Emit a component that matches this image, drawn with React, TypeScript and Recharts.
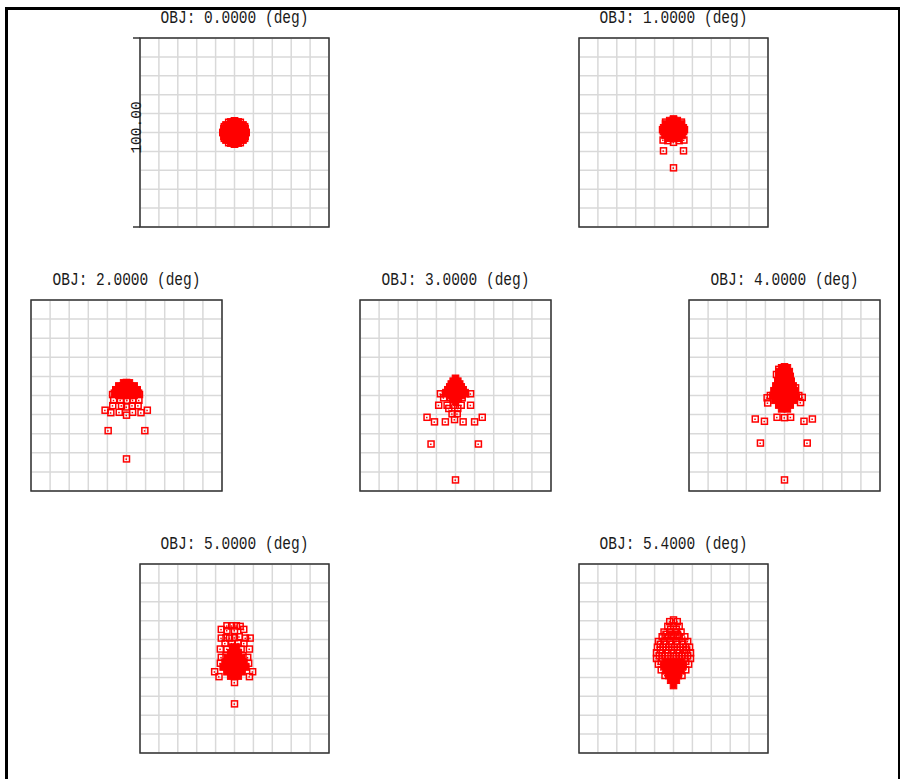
import React from 'react';
import { ScatterChart, Scatter, XAxis, YAxis, CartesianGrid, ReferenceArea } from 'recharts';

// spot diagram, ray positions in µm relative to the chief ray, box = 100 µm
const gridTicks = [-50, -40, -30, -20, -10, 0, 10, 20, 30, 40, 50];
const scaleLabel = '100.00';
const fieldLabels = ['OBJ: 0.0000 (deg)', 'OBJ: 1.0000 (deg)', 'OBJ: 2.0000 (deg)', 'OBJ: 3.0000 (deg)', 'OBJ: 4.0000 (deg)', 'OBJ: 5.0000 (deg)', 'OBJ: 5.4000 (deg)'];

type Pt = { x: number; y: number };

const spot0Core: Pt[] = [
  { x: 0, y: 6 }, { x: -2, y: 5.6 }, { x: 2, y: 5.6 },
  { x: -4.5, y: 4 }, { x: -2.5, y: 4 }, { x: 0, y: 4 }, { x: 2.5, y: 4 }, { x: 4.5, y: 4 },
  { x: -5.6, y: 2 }, { x: -3, y: 2 }, { x: 0, y: 2 }, { x: 3, y: 2 }, { x: 5.6, y: 2 },
  { x: -6, y: 0 }, { x: -3, y: 0 }, { x: 0, y: 0 }, { x: 3, y: 0 }, { x: 6, y: 0 },
  { x: -5.6, y: -2 }, { x: -3, y: -2 }, { x: 0, y: -2 }, { x: 3, y: -2 }, { x: 5.6, y: -2 },
  { x: -4.5, y: -4 }, { x: -2.5, y: -4 }, { x: 0, y: -4 }, { x: 2.5, y: -4 }, { x: 4.5, y: -4 },
  { x: 0, y: -6 }, { x: -2, y: -5.6 }, { x: 2, y: -5.6 },
];
const spot0Rays: Pt[] = [
  { x: 6.2, y: 0 }, { x: 5.4, y: 3.1 }, { x: 3.1, y: 5.4 }, { x: 0, y: 6.2 }, { x: -3.1, y: 5.4 }, { x: -5.4, y: 3.1 },
  { x: -6.2, y: 0 }, { x: -5.4, y: -3.1 }, { x: -3.1, y: -5.4 }, { x: 0, y: -6.2 }, { x: 3.1, y: -5.4 }, { x: 5.4, y: -3.1 },
];

const spot1Core: Pt[] = [
  { x: -2, y: 6.3 }, { x: 0, y: 6.7 }, { x: 2, y: 6.3 },
  { x: -4.2, y: 4.5 }, { x: -2, y: 4.5 }, { x: 0, y: 4.5 }, { x: 2, y: 4.5 }, { x: 4.2, y: 4.5 },
  { x: -5.2, y: 2.5 }, { x: -2.6, y: 2.5 }, { x: 0, y: 2.5 }, { x: 2.6, y: 2.5 }, { x: 5.2, y: 2.5 },
  { x: -5.3, y: 0.5 }, { x: -2.6, y: 0.5 }, { x: 0, y: 0.5 }, { x: 2.6, y: 0.5 }, { x: 5.3, y: 0.5 },
  { x: -4.5, y: -1.5 }, { x: -2.2, y: -1.5 }, { x: 0, y: -1.5 }, { x: 2.2, y: -1.5 }, { x: 4.5, y: -1.5 },
  { x: -2.5, y: -3 }, { x: 0, y: -3.2 }, { x: 2.5, y: -3 },
];
const spot1Rays: Pt[] = [
  { x: -5.5, y: -4 }, { x: 5.5, y: -4 }, { x: 0, y: -5.2 }, { x: -3, y: -4.3 }, { x: 3, y: -4.3 },
  { x: -5.8, y: 1.5 }, { x: 5.8, y: 1.5 }, { x: -4.2, y: 5.5 }, { x: 4.2, y: 5.5 }, { x: 0, y: 7.2 },
  { x: -5.3, y: -9.7 }, { x: 5.3, y: -9.7 }, { x: 0, y: -18.7 },
];

const spot2Core: Pt[] = [
  { x: -1.5, y: 6.6 }, { x: 0, y: 6.8 }, { x: 1.5, y: 6.6 },
  { x: -4, y: 5 }, { x: -2, y: 5 }, { x: 0, y: 5 }, { x: 2, y: 5 }, { x: 4, y: 5 },
  { x: -5.6, y: 3 }, { x: -3, y: 3 }, { x: 0, y: 3 }, { x: 3, y: 3 }, { x: 5.6, y: 3 },
  { x: -6.3, y: 1.2 }, { x: -3.2, y: 1.2 }, { x: 0, y: 1.2 }, { x: 3.2, y: 1.2 }, { x: 6.3, y: 1.2 },
];
const spot2Rays: Pt[] = [
  { x: -7.3, y: 0.5 }, { x: 6.8, y: 0.5 }, { x: -4, y: 0 }, { x: -1.5, y: 0 }, { x: 1.5, y: 0 }, { x: 4, y: 0 },
  { x: -6.7, y: -2.5 }, { x: -3.2, y: -2.5 }, { x: 0.3, y: -2.5 }, { x: 3.3, y: -2.5 }, { x: 6.5, y: -2.5 },
  { x: -7.2, y: -5.3 }, { x: -2.6, y: -5.3 }, { x: 0, y: -6 }, { x: 3, y: -5.3 }, { x: 6.1, y: -5.3 },
  { x: -11.2, y: -7.7 }, { x: -8.2, y: -9 }, { x: -3.8, y: -8.8 }, { x: 0, y: -10.3 }, { x: 3.2, y: -8.8 }, { x: 7.6, y: -9 }, { x: 10.9, y: -7.7 },
  { x: -9.6, y: -18.4 }, { x: 9.6, y: -18.4 }, { x: 0, y: -33.2 },
];

const spot3Core: Pt[] = [
  { x: 0, y: 9 },
  { x: -1.2, y: 7.5 }, { x: 1.2, y: 7.5 },
  { x: -2.2, y: 6 }, { x: 0, y: 6 }, { x: 2.2, y: 6 },
  { x: -3, y: 4.5 }, { x: -1, y: 4.5 }, { x: 1, y: 4.5 }, { x: 3, y: 4.5 },
  { x: -4, y: 3 }, { x: -2, y: 3 }, { x: 0, y: 3 }, { x: 2, y: 3 }, { x: 4, y: 3 },
  { x: -5, y: 1.5 }, { x: -2.5, y: 1.5 }, { x: 0, y: 1.5 }, { x: 2.5, y: 1.5 }, { x: 5, y: 1.5 },
  { x: -3, y: 0 }, { x: 0, y: 0 }, { x: 3, y: 0 },
  { x: -1.5, y: -1.5 }, { x: 1.5, y: -1.5 },
  { x: 0, y: -3 },
];
const spot3Rays: Pt[] = [
  { x: -7.9, y: 0.9 }, { x: -5.3, y: 0.9 }, { x: 5.3, y: 0.9 }, { x: 7.9, y: 0.9 },
  { x: -6.2, y: -1.2 }, { x: -2.6, y: -1.2 }, { x: 1.2, y: -1.2 }, { x: 3.5, y: -1.2 },
  { x: -8.8, y: -5.1 }, { x: -4.4, y: -5.1 }, { x: -0.9, y: -5.1 }, { x: 3, y: -5.1 }, { x: 7.9, y: -5.1 },
  { x: -3.5, y: -6.8 }, { x: 1.2, y: -6.8 },
  { x: -1.8, y: -9.6 }, { x: 0.9, y: -9.6 },
  { x: -14.9, y: -11.4 }, { x: 14, y: -11.4 }, { x: -0.5, y: -12.6 },
  { x: -11, y: -13.8 }, { x: -5.3, y: -13.8 }, { x: 4, y: -13.8 }, { x: 10, y: -13.8 },
  { x: -12.8, y: -25.4 }, { x: 12, y: -25.4 }, { x: 0, y: -44.2 },
];

const spot4Core: Pt[] = [
  { x: 0, y: 15 }, { x: -1.5, y: 14.5 }, { x: 1.5, y: 14.5 },
  { x: -2.5, y: 12.5 }, { x: 0, y: 12.5 }, { x: 2.5, y: 12.5 },
  { x: -3, y: 10 }, { x: -1, y: 10 }, { x: 1, y: 10 }, { x: 3, y: 10 },
  { x: -3.5, y: 7.5 }, { x: -1.2, y: 7.5 }, { x: 1.2, y: 7.5 }, { x: 3.5, y: 7.5 },
  { x: -4.5, y: 5 }, { x: -1.5, y: 5 }, { x: 1.5, y: 5 }, { x: 4.5, y: 5 },
  { x: -5.5, y: 2.5 }, { x: -2.8, y: 2.5 }, { x: 0, y: 2.5 }, { x: 2.8, y: 2.5 }, { x: 5.5, y: 2.5 },
  { x: -6, y: 0 }, { x: -3, y: 0 }, { x: 0, y: 0 }, { x: 3, y: 0 }, { x: 6, y: 0 },
  { x: -5, y: -2.5 }, { x: -2.5, y: -2.5 }, { x: 0, y: -2.5 }, { x: 2.5, y: -2.5 }, { x: 5, y: -2.5 },
  { x: -3, y: -5 }, { x: 0, y: -5 }, { x: 3, y: -5 },
  { x: -1.5, y: -7 }, { x: 1.5, y: -7 },
];
const spot4Rays: Pt[] = [
  { x: -3, y: 13.7 }, { x: -4.2, y: 11 }, { x: -3, y: 4 }, { x: 5.8, y: 4 },
  { x: -7.4, y: 0 }, { x: -9.1, y: -1.2 }, { x: -8.8, y: -3.9 },
  { x: 7.5, y: 0 }, { x: 9.3, y: -1 }, { x: 8.4, y: -3.7 },
  { x: -3.9, y: -11.4 }, { x: 0, y: -11.6 }, { x: 3.2, y: -11.4 },
  { x: -15.3, y: -12.3 }, { x: -10.5, y: -13.5 }, { x: 10.2, y: -13.5 }, { x: 14.6, y: -12.3 },
  { x: -12.6, y: -24.9 }, { x: 11.9, y: -24.9 }, { x: 0, y: -44.2 },
];

const spot5Core: Pt[] = [
  { x: -1, y: 6 }, { x: 1, y: 6 },
  { x: -2, y: 3 }, { x: 0, y: 3 }, { x: 2, y: 3 },
  { x: -3, y: 0.5 }, { x: 0, y: 0.5 }, { x: 3, y: 0.5 },
  { x: -5, y: -2 }, { x: -2.5, y: -2 }, { x: 0, y: -2 }, { x: 2.5, y: -2 }, { x: 5, y: -2 },
  { x: -6, y: -4.5 }, { x: -3, y: -4.5 }, { x: 0, y: -4.5 }, { x: 3, y: -4.5 }, { x: 6, y: -4.5 },
  { x: -4, y: -7 }, { x: -1.5, y: -7 }, { x: 1.5, y: -7 }, { x: 4, y: -7 },
  { x: -2, y: -9.3 }, { x: 0, y: -9.5 }, { x: 2, y: -9.3 },
];
const spot5Rays: Pt[] = [
  { x: -4, y: 17.3 }, { x: -1.5, y: 17.3 }, { x: 1, y: 17.3 }, { x: 3, y: 17 },
  { x: -7, y: 15.4 }, { x: -4, y: 14.8 }, { x: 0, y: 14.8 }, { x: 4.9, y: 15.4 },
  { x: -7, y: 10.8 }, { x: -4.5, y: 11 }, { x: -2.6, y: 10.8 }, { x: 0, y: 11 }, { x: 2.5, y: 11.5 }, { x: 5.8, y: 10.8 }, { x: 8.3, y: 10.8 },
  { x: -5, y: 8 }, { x: -1.5, y: 8 }, { x: 2, y: 8 }, { x: 5, y: 8 },
  { x: -7.5, y: 5 }, { x: -4, y: 5 }, { x: 3.5, y: 5 }, { x: 7.9, y: 5 },
  { x: -7, y: 0.6 }, { x: -4.5, y: 1.5 }, { x: 4.5, y: 1.5 }, { x: 7, y: 0.6 },
  { x: -7.5, y: -2.5 }, { x: 7.5, y: -2.5 },
  { x: -10.5, y: -7 }, { x: 9.6, y: -7 }, { x: -8.2, y: -9.6 }, { x: 7.9, y: -9.6 },
  { x: 0, y: -12.7 }, { x: 0, y: -24 },
];

const spot6Core: Pt[] = [
  { x: -4, y: -1.5 }, { x: -1.5, y: -1.5 }, { x: 1.5, y: -1.5 }, { x: 4, y: -1.5 },
  { x: -5, y: -4 }, { x: -2.5, y: -4 }, { x: 0, y: -4 }, { x: 2.5, y: -4 }, { x: 5, y: -4 },
  { x: -4, y: -6.5 }, { x: -1.5, y: -6.5 }, { x: 1.5, y: -6.5 }, { x: 4, y: -6.5 },
  { x: -2.5, y: -9 }, { x: 0, y: -9 }, { x: 2.5, y: -9 },
  { x: -1.5, y: -11.5 }, { x: 1.5, y: -11.5 },
  { x: 0, y: -14.3 },
];
const spot6Rays: Pt[] = [
  { x: 0, y: 20.4 }, { x: -2, y: 19.5 }, { x: 2, y: 19.5 },
  { x: -3, y: 17 }, { x: 0, y: 17 }, { x: 3, y: 17 }, { x: -1.5, y: 15.5 }, { x: 1.5, y: 15.5 },
  { x: -5, y: 14 }, { x: -2, y: 14 }, { x: 1, y: 14 }, { x: 4, y: 14 },
  { x: -4, y: 12.8 }, { x: -1, y: 12.8 }, { x: 2, y: 12.8 },
  { x: -6, y: 11.5 }, { x: -3, y: 11.5 }, { x: 0, y: 11.5 }, { x: 3, y: 11.5 }, { x: 6, y: 11.5 },
  { x: -8, y: 9 }, { x: -5, y: 9 }, { x: -2, y: 9 }, { x: 1.5, y: 9 }, { x: 4.5, y: 9 }, { x: 7.5, y: 9 },
  { x: -7, y: 7.5 }, { x: -4, y: 7.5 }, { x: -1, y: 7.5 }, { x: 2, y: 7.5 }, { x: 5, y: 7.5 },
  { x: -8.5, y: 6 }, { x: -5.5, y: 6 }, { x: -2.5, y: 6 }, { x: 0.5, y: 6 }, { x: 3.5, y: 6 }, { x: 6.5, y: 6 }, { x: 8.5, y: 6 },
  { x: -7, y: 4.5 }, { x: -4, y: 4.5 }, { x: -1, y: 4.5 }, { x: 2, y: 4.5 }, { x: 5, y: 4.5 }, { x: 7, y: 4.5 },
  { x: -9, y: 3 }, { x: -6, y: 3 }, { x: -3, y: 3 }, { x: 0, y: 3 }, { x: 3, y: 3 }, { x: 6, y: 3 }, { x: 9, y: 3 },
  { x: -7.5, y: 1.5 }, { x: -4.5, y: 1.5 }, { x: 1.5, y: 1.5 }, { x: 4.5, y: 1.5 }, { x: 7.5, y: 1.5 },
  { x: -9, y: 0 }, { x: -6, y: 0 }, { x: -3, y: 0 }, { x: 0, y: 1 }, { x: 3, y: 0 }, { x: 6, y: 0 }, { x: 9, y: 0 },
  { x: -6.5, y: -1.5 }, { x: 6.5, y: -1.5 },
  { x: -8, y: -3 }, { x: -5, y: -3 }, { x: 5, y: -3 }, { x: 8, y: -3 },
  { x: -6.5, y: -6 }, { x: 6.5, y: -6 },
  { x: -4.5, y: -9 }, { x: 4.5, y: -9 },
];

const panels = [
  { title: fieldLabels[0], core: spot0Core, rays: spot0Rays, left: 140, top: 38, size: 189, scale: true },
  { title: fieldLabels[1], core: spot1Core, rays: spot1Rays, left: 579, top: 38, size: 189, scale: false },
  { title: fieldLabels[2], core: spot2Core, rays: spot2Rays, left: 31, top: 300, size: 191, scale: false },
  { title: fieldLabels[3], core: spot3Core, rays: spot3Rays, left: 360, top: 300, size: 191, scale: false },
  { title: fieldLabels[4], core: spot4Core, rays: spot4Rays, left: 689, top: 300, size: 191, scale: false },
  { title: fieldLabels[5], core: spot5Core, rays: spot5Rays, left: 140, top: 564, size: 189, scale: false },
  { title: fieldLabels[6], core: spot6Core, rays: spot6Rays, left: 579, top: 564, size: 189, scale: false },
];

const RED = '#ff0000';
const PAD = 12;
const MONO = "'Liberation Mono', 'DejaVu Sans Mono', monospace";

const HollowSquare = (props: any) => {
  const { cx, cy } = props;
  if (cx == null || cy == null) return null;
  return (
    <g>
      <rect x={cx - 3} y={cy - 3} width={6} height={6} fill="none" stroke={RED} strokeWidth={1.5} />
      <rect x={cx - 1} y={cy - 0.5} width={1.5} height={1.5} fill={RED} />
    </g>
  );
};

const FilledSquare = (props: any) => {
  const { cx, cy } = props;
  if (cx == null || cy == null) return null;
  return <rect x={cx - 3.3} y={cy - 3.3} width={6.6} height={6.6} fill={RED} stroke={RED} strokeWidth={1} />;
};

// scale bar on the first panel: short ticks at the box ends, "100.00" at the middle
const ScaleTick = (props: any) => {
  const { x, y, payload } = props;
  const v = payload?.value;
  if (v === -50 || v === 50) {
    return <line x1={x - 7} x2={x} y1={y} y2={y} stroke="#333" strokeWidth={1.5} />;
  }
  if (v === 0) {
    const tx = x + 1;
    const ty = y - 5;
    return (
      <text x={tx} y={ty} transform={`rotate(-90 ${tx} ${ty})`} textAnchor="middle"
        fontFamily={MONO} fontSize={14.5} fill="#1a1a1a">
        {scaleLabel}
      </text>
    );
  }
  return <g />;
};

function SpotPanel({ p }: { p: typeof panels[number] }) {
  const axisW = p.scale ? 30 : 0;
  const w = p.size + PAD * 2 + axisW;
  const h = p.size + PAD * 2;
  return (
    <div style={{ position: 'absolute', left: p.left - PAD - axisW, top: p.top - PAD, width: w, height: h }}>
      <ScatterChart width={w} height={h} margin={{ top: PAD, right: PAD, bottom: PAD, left: PAD }}>
        <CartesianGrid stroke="#d9d9d9" strokeWidth={1.5} />
        <XAxis type="number" dataKey="x" domain={[-50, 50]} ticks={gridTicks} interval={0} hide />
        {p.scale ? (
          <YAxis type="number" dataKey="y" domain={[-50, 50]} ticks={gridTicks} interval={0} width={axisW}
            axisLine={false} tickLine={false} tickSize={0} tickMargin={0} tick={<ScaleTick />} />
        ) : (
          <YAxis type="number" dataKey="y" domain={[-50, 50]} ticks={gridTicks} interval={0} hide />
        )}
        <ReferenceArea x1={-50} x2={50} y1={-50} y2={50} fill="none" fillOpacity={0} stroke="#333" strokeWidth={1.5} ifOverflow="visible" />
        <Scatter data={p.core} shape={FilledSquare} isAnimationActive={false} />
        <Scatter data={p.rays} shape={HollowSquare} isAnimationActive={false} />
      </ScatterChart>
      <div style={{
        position: 'absolute', left: axisW, width: p.size + PAD * 2, top: -14, textAlign: 'center',
        fontFamily: MONO, fontSize: 14.5, lineHeight: '14.5px', color: '#1a1a1a', whiteSpace: 'nowrap',
        transform: 'scaleY(1.28)', transformOrigin: '50% 78%',
      }}>
        {p.title}
      </div>
    </div>
  );
}

export default function App() {
  return (
    <div style={{ position: 'absolute', left: 0, top: 0, width: 902, height: 779, background: '#fff', overflow: 'hidden' }}>
      <div style={{ position: 'absolute', left: 5, top: 7, width: 890, height: 800, borderLeft: '3px solid #000', borderTop: '3px solid #000', borderRight: '2px solid #000' }} />
      {panels.map((p, i) => (
        <SpotPanel key={i} p={p} />
      ))}
    </div>
  );
}
